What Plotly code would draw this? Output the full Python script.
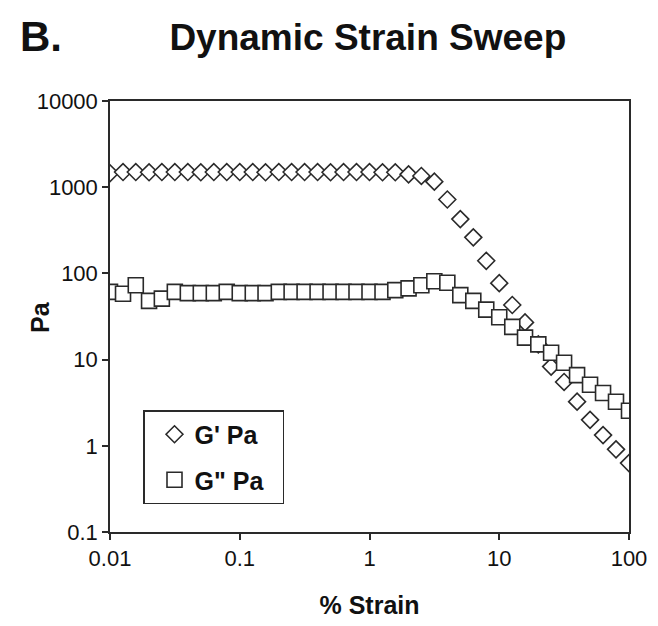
import plotly.graph_objects as go

strain = [0.01, 0.0126, 0.0158, 0.02, 0.0251, 0.0316, 0.0398, 0.0501, 0.0631, 0.0794,
          0.1, 0.126, 0.158, 0.2, 0.251, 0.316, 0.398, 0.501, 0.631, 0.794,
          1, 1.26, 1.58, 2, 2.51, 3.16, 3.98, 5.01, 6.31, 7.94,
          10, 12.6, 15.8, 20, 25.1, 31.6, 39.8, 50.1, 63.1, 79.4, 100]

g_storage = [1450, 1500, 1500, 1490, 1500, 1500, 1500, 1490, 1500, 1500,
             1500, 1500, 1490, 1500, 1500, 1500, 1500, 1490, 1500, 1500,
             1500, 1490, 1490, 1410, 1350, 1160, 720, 427, 262, 140,
             77, 43, 27, 15, 8.3, 5.5, 3.25, 2.0, 1.33, 0.91, 0.63]

g_loss = [61, 58, 73, 48, 51, 61, 59, 59, 59, 61,
          59, 59, 59, 61, 61, 61, 61, 61, 61, 61,
          61, 61, 64, 67, 73, 81, 78, 56, 48, 38,
          31, 24, 18, 15, 12, 9.2, 6.6, 5.1, 4.1, 3.25, 2.55]

series_names = ["G' Pa", 'G" Pa']
x_ticks = [0.01, 0.1, 1, 10, 100]
x_ticklabels = ["0.01", "0.1", "1", "10", "100"]
y_ticks = [0.1, 1, 10, 100, 1000, 10000]
y_ticklabels = ["0.1", "1", "10", "100", "1000", "10000"]

FONT = "Liberation Sans, Arial, sans-serif"
LINE = "#2a2a2a"
PW, PH = 519, 431  # plot area size in px

fig = go.Figure()
fig.add_trace(go.Scatter(
    x=strain, y=g_storage, mode="markers", name=series_names[0] + "\u2007",
    legendgroup="a",
    marker=dict(symbol="diamond", size=13, color="white",
                line=dict(color=LINE, width=1.6)),
))
fig.add_trace(go.Scatter(
    x=strain, y=g_loss, mode="markers", name=series_names[1] + "\u2007",
    legendgroup="b",
    marker=dict(symbol="square", size=15, color="white",
                line=dict(color=LINE, width=1.6)),
))

axis_common = dict(
    showgrid=False, zeroline=False, showline=True, linecolor=LINE, linewidth=1.5,
    mirror=True, ticks="outside", ticklen=6, tickwidth=1.5, tickcolor=LINE,
    tickfont=dict(family=FONT, size=22, color="#111"),
)

fig.update_xaxes(type="log", range=[-2, 2], tickvals=x_ticks, ticktext=x_ticklabels,
                 title=dict(text="<b>% Strain</b>", font=dict(family=FONT, size=25, color="#111"),
                            standoff=26),
                 **axis_common)
fig.update_yaxes(type="log", range=[-1, 4], tickvals=y_ticks, ticktext=y_ticklabels,
                 **axis_common)

fig.update_layout(
    width=658, height=626, autosize=False,
    margin=dict(l=110, r=29, t=101, b=94, autoexpand=False),
    paper_bgcolor="white", plot_bgcolor="white",
    title=dict(text="<b>Dynamic Strain Sweep</b>", x=0.559, xanchor="center",
               y=1 - 37 / 626, yanchor="middle", font=dict(family=FONT, size=37, color="#111")),
    legend=dict(x=(143 - 110) / PW, y=(532 - 410) / PH, xanchor="left", yanchor="top",
                bgcolor="white", bordercolor=LINE, borderwidth=1.5,
                traceorder="grouped", tracegroupgap=10, indentation=10, itemwidth=30,
                font=dict(family=FONT, size=25, color="#111", weight="bold")),
    showlegend=True,
)
fig.add_annotation(text="<b>B.</b>", xref="paper", yref="paper",
                   x=(18 - 110) / PW, y=1 + (101 - 36) / PH, xanchor="left", yanchor="middle",
                   showarrow=False, font=dict(family=FONT, size=42, color="#111"))
fig.add_annotation(text="<b>Pa</b>", xref="paper", yref="paper", textangle=-90,
                   x=(40 - 110) / PW, y=(532 - 317) / PH, xanchor="center", yanchor="middle",
                   showarrow=False, font=dict(family=FONT, size=25, color="#111"))

fig.write_html("out.html")
